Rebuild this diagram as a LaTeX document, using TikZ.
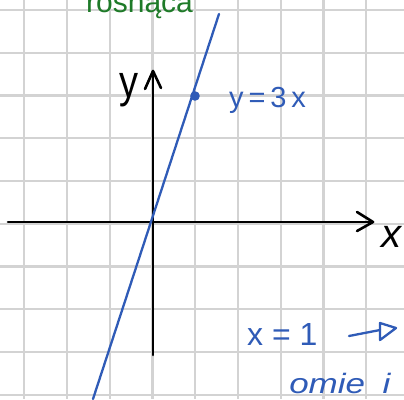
\documentclass[tikz,border=0pt]{standalone}
\usepackage{fontspec}
\setmainfont{Liberation Sans}
\usetikzlibrary{arrows.meta}
\definecolor{gridgray}{HTML}{D3D3D3}
\definecolor{penblue}{HTML}{2F5BB7}
\definecolor{pengreen}{HTML}{1E7A28}
\begin{document}
\begin{tikzpicture}[x=1pt,y=-1pt,
  gridline/.style={draw=gridgray,line width=2.3pt},
  axisline/.style={draw=black,line width=2.6pt,line cap=round,line join=round},
  blueline/.style={draw=penblue,line width=2.3pt,line cap=round,line join=round},
  bluetext/.style={text=penblue,inner sep=0pt},
  blacktext/.style={text=black,inner sep=0pt}]
\useasboundingbox (0,0) rectangle (404,399);
\begin{scope}
\clip (0,0) rectangle (404,399);
\fill[white] (0,0) rectangle (404,399);
% grid
\foreach \i in {0,...,9} {
  \draw[gridline] ({24.3+42.75*\i},0) -- ({24.3+42.75*\i},399);
  \draw[gridline] (0,{10+42.75*\i}) -- (404,{10+42.75*\i});
}
% axes
\coordinate (xa) at (8,222);
\coordinate (xb) at (373,222);
\coordinate (ya) at (153,355);
\coordinate (yb) at (153,71);
\draw[axisline] (xa) -- (xb);
\draw[axisline] (357,212) -- (xb) -- (357,231);
\draw[axisline] (ya) -- (yb);
\draw[axisline] (145,89) -- (yb) -- (161,88);
% line y=3x
\coordinate (la) at (93,399);
\coordinate (lb) at (219,14);
\draw[blueline] (la) -- (lb);
\fill[penblue] (195,96) circle (4.8);
% labels
\node[blacktext,font=\fontsize{38}{40}\selectfont,yscale=1.2] (ylab) at (129,90) {y};
\node[blacktext,font=\fontsize{40}{42}\selectfont\itshape] (xlab) at (391,237) {x};
\node[bluetext,anchor=base west,font=\fontsize{29}{32}\selectfont] (eq) at (229,107) {y\,=\,3\,x};
\node[bluetext,anchor=base west,font=\fontsize{32}{34}\selectfont] (x1) at (247,345) {x = 1};
% arrow x=1 -> ...
\coordinate (arra) at (349,336);
\coordinate (arrb) at (380,330);
\coordinate (tipa) at (380,323);
\coordinate (tipb) at (380,340);
\coordinate (tipc) at (396,328);
\draw[blueline] (arra) -- (arrb);
\draw[blueline] (tipa) -- (tipb) -- (tipc) -- cycle;
\node[bluetext,anchor=base west,font=\fontsize{28}{30}\selectfont\itshape,xscale=1.25] (omie) at (289,393) {omie\hspace{14pt}i};
\node[text=pengreen,anchor=base west,inner sep=0pt,font=\fontsize{30}{32}\selectfont] (top) at (86,12) {rosnąca};
\end{scope}
\end{tikzpicture}
\end{document}
